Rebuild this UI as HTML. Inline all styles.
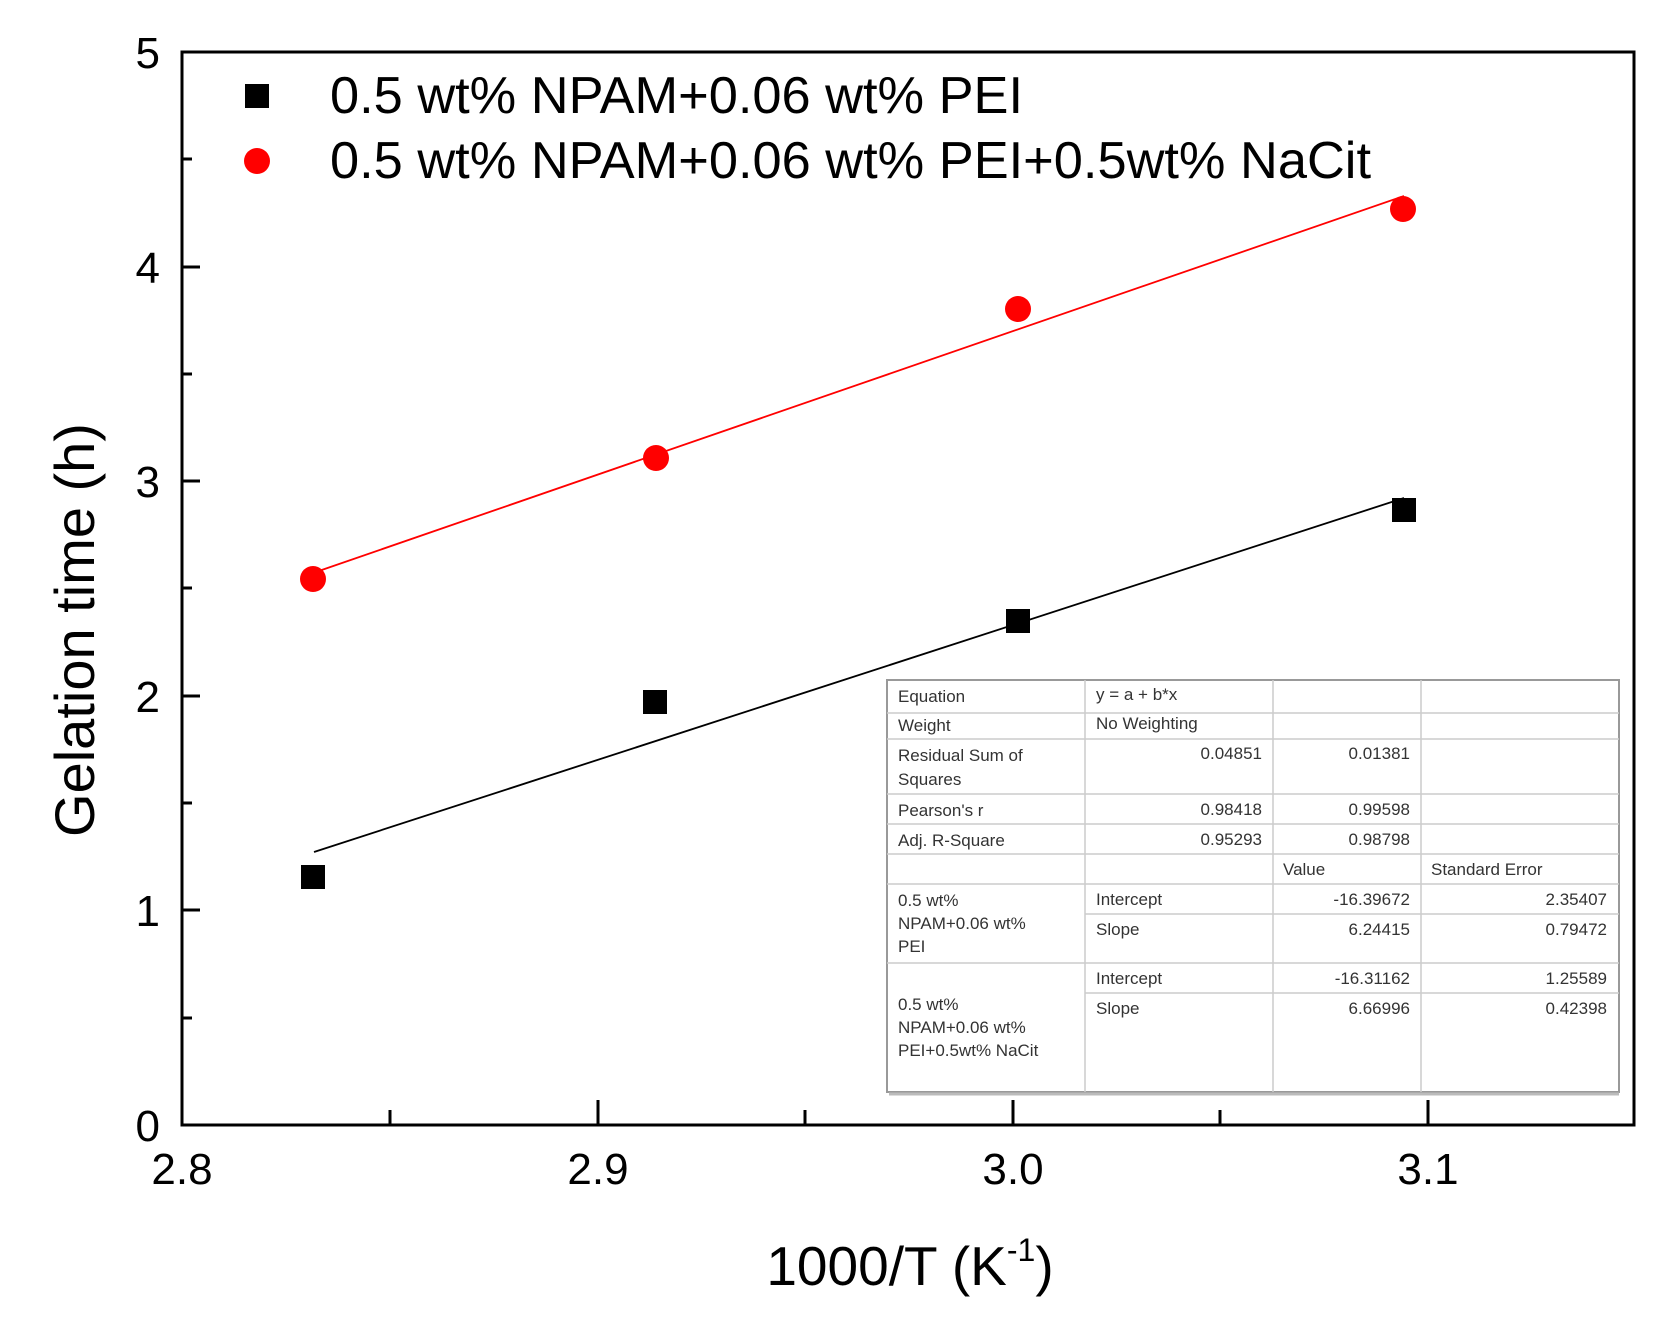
<!DOCTYPE html>
<html><head><meta charset="utf-8"><style>html,body{margin:0;padding:0;background:#fff}svg{display:block}</style></head>
<body>
<svg width="1656" height="1332" viewBox="0 0 1656 1332" xmlns="http://www.w3.org/2000/svg" font-family="Liberation Sans, sans-serif">
<rect width="1656" height="1332" fill="#fff"/>
<rect x="182" y="52" width="1452" height="1073" fill="none" stroke="#000" stroke-width="3"/>
<g stroke="#000" stroke-width="3">
<line x1="182" y1="1125" x2="200" y2="1125"/>
<line x1="182" y1="1018" x2="192" y2="1018"/>
<line x1="182" y1="910" x2="200" y2="910"/>
<line x1="182" y1="803" x2="192" y2="803"/>
<line x1="182" y1="696" x2="200" y2="696"/>
<line x1="182" y1="588" x2="192" y2="588"/>
<line x1="182" y1="481" x2="200" y2="481"/>
<line x1="182" y1="374" x2="192" y2="374"/>
<line x1="182" y1="267" x2="200" y2="267"/>
<line x1="182" y1="159" x2="192" y2="159"/>
<line x1="598" y1="1125" x2="598" y2="1100"/>
<line x1="1013" y1="1125" x2="1013" y2="1100"/>
<line x1="1428" y1="1125" x2="1428" y2="1100"/>
<line x1="390" y1="1125" x2="390" y2="1110"/>
<line x1="805" y1="1125" x2="805" y2="1110"/>
<line x1="1220" y1="1125" x2="1220" y2="1110"/>
</g>
<g font-size="44" fill="#000" text-anchor="end">
<text x="160" y="1141">0</text><text x="160" y="926">1</text><text x="160" y="712">2</text>
<text x="160" y="497">3</text><text x="160" y="283">4</text><text x="160" y="68">5</text>
</g>
<g font-size="44" fill="#000" text-anchor="middle">
<text x="182" y="1184">2.8</text><text x="598" y="1184">2.9</text><text x="1013" y="1184">3.0</text><text x="1428" y="1184">3.1</text>
</g>
<text x="910" y="1285" font-size="55" text-anchor="middle">1000/T (K<tspan font-size="32" dy="-24">-1</tspan><tspan dy="24">)</tspan></text>
<text transform="translate(94,630) rotate(-90)" font-size="56" text-anchor="middle">Gelation time (h)</text>
<rect x="245" y="84" width="24" height="24" fill="#000"/>
<text x="330" y="113" font-size="52" textLength="693" lengthAdjust="spacingAndGlyphs">0.5 wt% NPAM+0.06 wt% PEI</text>
<circle cx="257" cy="161" r="13" fill="#f00"/>
<text x="330" y="178" font-size="52" textLength="1041" lengthAdjust="spacingAndGlyphs">0.5 wt% NPAM+0.06 wt% PEI+0.5wt% NaCit</text>
<line x1="314" y1="852" x2="1404" y2="498" stroke="#000" stroke-width="1.8"/>
<line x1="313" y1="573" x2="1404" y2="196" stroke="#f00" stroke-width="1.8"/>
<g fill="#000">
<rect x="301" y="865" width="24" height="24"/><rect x="643" y="690" width="24" height="24"/>
<rect x="1006" y="609" width="24" height="24"/><rect x="1392" y="498" width="24" height="24"/>
</g>
<g fill="#f00">
<circle cx="313" cy="579" r="13"/><circle cx="656" cy="458" r="13"/>
<circle cx="1018" cy="309" r="13"/><circle cx="1403" cy="209" r="13"/>
</g>
<rect x="887" y="680" width="732" height="412" fill="#fff" stroke="#999" stroke-width="2"/>
<line x1="889" y1="1094" x2="1619" y2="1094" stroke="#bbb" stroke-width="3"/>
<g stroke="#ccc" stroke-width="1.5">
<line x1="1085" y1="680" x2="1085" y2="1092"/><line x1="1273" y1="680" x2="1273" y2="1092"/><line x1="1421" y1="680" x2="1421" y2="1092"/>
<line x1="887" y1="713" x2="1619" y2="713"/><line x1="887" y1="739" x2="1619" y2="739"/>
<line x1="887" y1="794" x2="1619" y2="794"/><line x1="887" y1="824" x2="1619" y2="824"/>
<line x1="887" y1="854" x2="1619" y2="854"/><line x1="887" y1="884" x2="1619" y2="884"/>
<line x1="1085" y1="914" x2="1619" y2="914"/><line x1="887" y1="963" x2="1619" y2="963"/>
<line x1="1085" y1="993" x2="1619" y2="993"/>
</g>
<g font-size="17" fill="#333">
<text x="898" y="702">Equation</text><text x="1096" y="700">y = a + b*x</text>
<text x="898" y="731">Weight</text><text x="1096" y="729">No Weighting</text>
<text x="898" y="761">Residual Sum of</text><text x="898" y="785">Squares</text>
<text x="898" y="816">Pearson's r</text>
<text x="898" y="846">Adj. R-Square</text>
<text x="1283" y="875">Value</text><text x="1431" y="875">Standard Error</text>
<text x="898" y="906">0.5 wt%</text><text x="898" y="929">NPAM+0.06 wt%</text><text x="898" y="952">PEI</text>
<text x="1096" y="905">Intercept</text><text x="1096" y="935">Slope</text>
<text x="1096" y="984">Intercept</text><text x="1096" y="1014">Slope</text>
<text x="898" y="1010">0.5 wt%</text><text x="898" y="1033">NPAM+0.06 wt%</text><text x="898" y="1056">PEI+0.5wt% NaCit</text>
</g>
<g font-size="17" fill="#333" text-anchor="end">
<text x="1262" y="759">0.04851</text><text x="1410" y="759">0.01381</text>
<text x="1262" y="815">0.98418</text><text x="1410" y="815">0.99598</text>
<text x="1262" y="845">0.95293</text><text x="1410" y="845">0.98798</text>
<text x="1410" y="905">-16.39672</text><text x="1607" y="905">2.35407</text>
<text x="1410" y="935">6.24415</text><text x="1607" y="935">0.79472</text>
<text x="1410" y="984">-16.31162</text><text x="1607" y="984">1.25589</text>
<text x="1410" y="1014">6.66996</text><text x="1607" y="1014">0.42398</text>
</g>
</svg>
</body></html>
